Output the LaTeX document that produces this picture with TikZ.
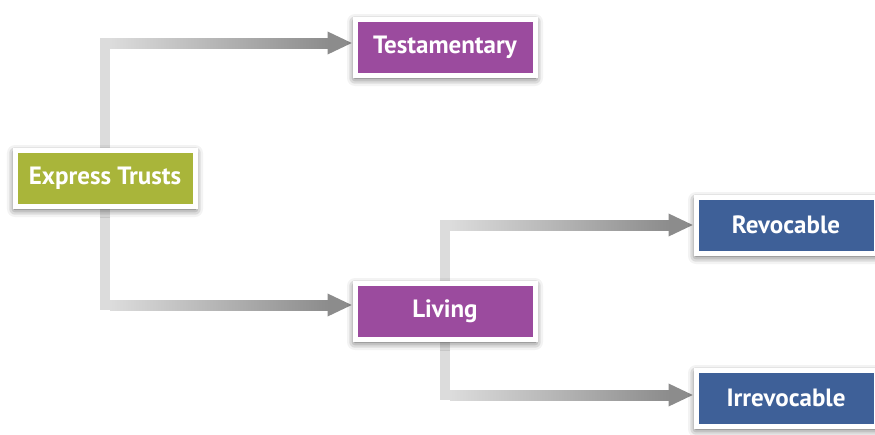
\documentclass[tikz,border=0pt]{standalone}
\usepackage{fontspec}
\setmainfont{PT Sans}
\usepackage{xcolor}
\definecolor{trustgreen}{RGB}{169, 181, 58}
\definecolor{trustpurple}{RGB}{155, 75, 158}
\definecolor{trustblue}{RGB}{62, 96, 152}
\definecolor{linelight}{RGB}{220, 220, 220}
\definecolor{linedark}{RGB}{140, 140, 140}
\usepackage{tikz}
\usetikzlibrary{
    arrows.meta,
    positioning,
    calc,
    backgrounds,
    shadows.blur
}

\begin{document}
\begin{tikzpicture}[
    x=1pt, y=-1pt,
    box/.style={draw=white, line width=5pt, text=white, minimum width=180pt, minimum height=56pt,
        font=\fontsize{25}{30}\selectfont\bfseries,
        blur shadow={shadow xshift=0pt, shadow yshift=-3pt, shadow blur radius=8pt, shadow opacity=75}},
    rootbox/.style={box, fill=trustgreen},
    midbox/.style={box, fill=trustpurple},
    leafbox/.style={box, fill=trustblue},
    link/.style={draw=linelight, line width=10pt,
        -{Triangle[length=25pt, width=21pt, color=linedark]}},
    linkshade/.style={left color=linelight, right color=linedark}
]
\useasboundingbox (0,0) rectangle (875,434);

% Boxes
\node[rootbox] (express) at (105,178) {Express Trusts};
\node[midbox] (testam) at (445,47) {Testamentary};
\node[midbox] (living) at (445,311) {Living};
\node[leafbox] (revoc) at (786,225) {Revocable};
\node[leafbox] (irrevoc) at (786,398) {Irrevocable};

% Connectors, behind the boxes
\begin{scope}[on background layer]
\draw[link] (express.north) |- ($(testam.west)+(0,-4)$);
\draw[link] (express.south) |- ($(living.west)+(0,-6)$);
\draw[link] (living.north) |- (revoc.west);
\draw[link] (living.south) |- ($(irrevoc.west)+(0,-3)$);

% darker towards the arrow heads
\shade[linkshade] ($(express.north |- testam.west)+(5,-9)$) rectangle ($(testam.west)+(-24,1)$);
\shade[linkshade] ($(express.south |- living.west)+(5,-11)$) rectangle ($(living.west)+(-24,-1)$);
\shade[linkshade] ($(living.north |- revoc.west)+(5,-5)$) rectangle ($(revoc.west)+(-24,5)$);
\shade[linkshade] ($(living.south |- irrevoc.west)+(5,-8)$) rectangle ($(irrevoc.west)+(-24,2)$);
\end{scope}

\end{tikzpicture}
\end{document}
